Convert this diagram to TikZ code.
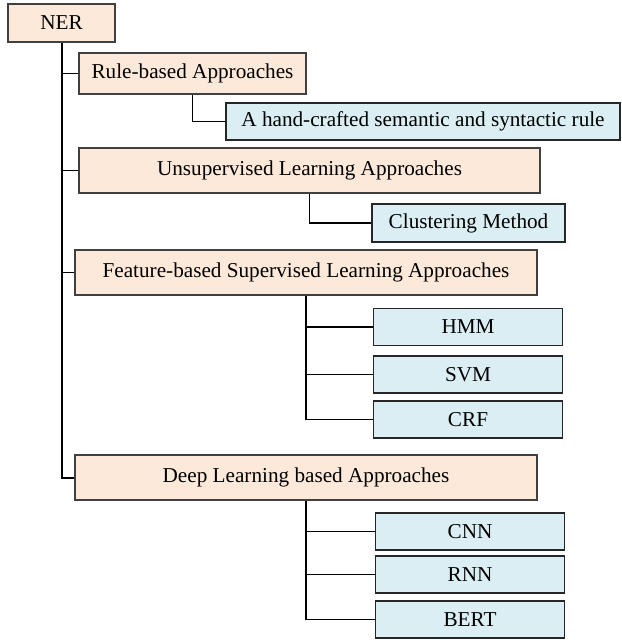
\documentclass[tikz,border=0pt]{standalone}
\usepackage{fontspec}
\setmainfont{Liberation Serif}
\definecolor{peach}{HTML}{FDE9D9}
\definecolor{paleblue}{HTML}{DAEEF3}
\begin{document}
\begin{tikzpicture}[x=0.5pt, y=-0.5pt,
        font=\fontsize{10.6}{12}\selectfont,
        cat/.style={draw=black!75, fill=peach, line width=0.55pt, inner sep=0pt},
        leaf/.style={draw=black!85, fill=paleblue, line width=0.6pt, inner sep=0pt,
            minimum width=94.5pt, minimum height=18.5pt},
        trunk/.style={line width=1pt},
        branch/.style={line width=0.75pt},
        twig/.style={line width=0.9pt}]
        \useasboundingbox (0,0) rectangle (621,640);

        % Root and approaches
        \node[cat, line width=0.9pt, minimum width=53.5pt, minimum height=19pt] (ner) at (61.5,23) {NER};
        \node[cat, minimum width=113.5pt, minimum height=20.5pt] (rule) at (192.5,73.5) {Rule-based Approaches};
        \node[cat, minimum width=230.5pt, minimum height=22.5pt] (unsup) at (309.5,170.5) {Unsupervised Learning Approaches};
        \node[cat, minimum width=231pt, minimum height=22.5pt] (feat) at (306,272.5) {Feature-based Supervised Learning Approaches};
        \node[cat, minimum width=231pt, minimum height=22.5pt] (deep) at (306,477.5) {Deep Learning based Approaches};

        % Methods
        \node[leaf, minimum width=197pt] (hand) at (423,121.5) {A hand-crafted semantic and syntactic rule};
        \node[leaf, minimum width=96.5pt, minimum height=19pt] (clust) at (468.5,223) {Clustering Method};
        \foreach \name/\y/\txt in {hmm/327/HMM, svm/374.5/SVM, crf/419.5/CRF} {
            \node[leaf] (\name) at (468,\y) {\txt};
            \draw[twig] (feat.south |- \name.west) -- (\name.west);
        }
        \foreach \name/\y/\txt in {cnn/531.5/CNN, rnn/574.5/RNN, bert/619.5/BERT} {
            \node[leaf] (\name) at (470,\y) {\txt};
            \draw[twig] (deep.south |- \name.west) -- (\name.west);
        }

        % Connectors
        \draw[trunk] (ner.south) |- (deep.west);
        \foreach \name in {rule, unsup, feat}
            \draw[branch] (ner.south |- \name.west) -- (\name.west);
        \draw[twig] (rule.south) |- (hand.west);
        \draw[twig] (unsup.south) |- (clust.west);
        \draw[twig] (feat.south) |- (crf.west);
        \draw[twig] (deep.south) |- (bert.west);
\end{tikzpicture}
\end{document}
